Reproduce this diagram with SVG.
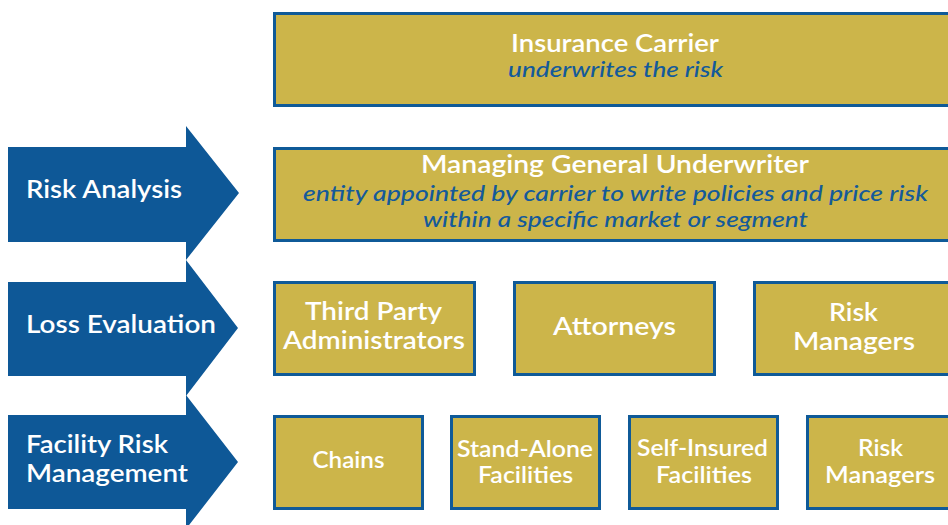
<svg xmlns="http://www.w3.org/2000/svg" width="948" height="525" viewBox="0 0 948 525">
  <style>
    .box { fill: #ccb54a; stroke: #0f5a98; stroke-width: 3; }
    .arrow { fill: #0e5897; }
    .t { font-family: Lato, "Open Sans", "Liberation Sans", sans-serif; font-weight: 600; fill: #ffffff; }
    .c { text-anchor: middle; }
    .i { font-family: Lato, "Open Sans", "Liberation Sans", sans-serif; font-style: italic; font-weight: 500; fill: #145a9a; text-anchor: middle; }
  </style>
  <rect width="948" height="525" fill="#ffffff"/>

  <!-- left-hand arrow labels -->
  <g id="risk-analysis">
    <polygon class="arrow" points="8,147 186,147 186,126 239,193 186,260 186,242 8,242"/>
    <text class="t" x="26" y="198" font-size="24" textLength="156" lengthAdjust="spacingAndGlyphs">Risk Analysis</text>
  </g>
  <g id="loss-evaluation">
    <polygon class="arrow" points="8,282 186,282 186,260 238,328 186,396 186,376 8,376"/>
    <text class="t" x="26" y="333" font-size="24" textLength="190" lengthAdjust="spacingAndGlyphs">Loss Evaluation</text>
  </g>
  <g id="facility-risk-management">
    <polygon class="arrow" points="8,415 186,415 186,395 238,462 186,529 186,509 8,509"/>
    <text class="t" x="26" y="453" font-size="24" textLength="142" lengthAdjust="spacingAndGlyphs">Facility Risk</text>
    <text class="t" x="26" y="482" font-size="24" textLength="162" lengthAdjust="spacingAndGlyphs">Management</text>
  </g>

  <!-- top tiers -->
  <g id="insurance-carrier">
    <rect class="box" x="274.5" y="13.5" width="681" height="92"/>
    <text class="t c" x="615" y="52" font-size="25" textLength="208" lengthAdjust="spacingAndGlyphs">Insurance Carrier</text>
    <text class="i" x="615.5" y="77" font-size="22" textLength="215" lengthAdjust="spacingAndGlyphs">underwrites the risk</text>
  </g>
  <g id="managing-general-underwriter">
    <rect class="box" x="274.5" y="148.5" width="681" height="92"/>
    <text class="t c" x="615" y="173" font-size="25" textLength="388" lengthAdjust="spacingAndGlyphs">Managing General Underwriter</text>
    <text class="i" x="615.5" y="201" font-size="22" textLength="625" lengthAdjust="spacingAndGlyphs">entity appointed by carrier to write policies and price risk</text>
    <text class="i" x="615.5" y="227" font-size="22" textLength="385" lengthAdjust="spacingAndGlyphs">within a specific market or segment</text>
  </g>

  <!-- loss evaluation row -->
  <g id="third-party-administrators">
    <rect class="box" x="274.5" y="282.5" width="200" height="92"/>
    <text class="t c" x="373.5" y="320" font-size="25" textLength="137" lengthAdjust="spacingAndGlyphs">Third Party</text>
    <text class="t c" x="374" y="349" font-size="25" textLength="182" lengthAdjust="spacingAndGlyphs">Administrators</text>
  </g>
  <g id="attorneys">
    <rect class="box" x="514.5" y="282.5" width="200" height="92"/>
    <text class="t c" x="614.5" y="335" font-size="25" textLength="123" lengthAdjust="spacingAndGlyphs">Attorneys</text>
  </g>
  <g id="risk-managers-loss">
    <rect class="box" x="754.5" y="282.5" width="200" height="92"/>
    <text class="t c" x="853.5" y="321" font-size="25" textLength="49" lengthAdjust="spacingAndGlyphs">Risk</text>
    <text class="t c" x="854" y="350" font-size="25" textLength="122" lengthAdjust="spacingAndGlyphs">Managers</text>
  </g>

  <!-- facility risk management row -->
  <g id="chains">
    <rect class="box" x="274.5" y="416.5" width="148" height="92"/>
    <text class="t c" x="348.5" y="468" font-size="22" textLength="72" lengthAdjust="spacingAndGlyphs">Chains</text>
  </g>
  <g id="stand-alone-facilities">
    <rect class="box" x="451.5" y="416.5" width="148" height="92"/>
    <text class="t c" x="525" y="457" font-size="22" textLength="136" lengthAdjust="spacingAndGlyphs">Stand-Alone</text>
    <text class="t c" x="525.5" y="483" font-size="22" textLength="95" lengthAdjust="spacingAndGlyphs">Facilities</text>
  </g>
  <g id="self-insured-facilities">
    <rect class="box" x="629.5" y="416.5" width="148" height="92"/>
    <text class="t c" x="702.5" y="456" font-size="22" textLength="131" lengthAdjust="spacingAndGlyphs">Self-Insured</text>
    <text class="t c" x="704" y="483" font-size="22" textLength="96" lengthAdjust="spacingAndGlyphs">Facilities</text>
  </g>
  <g id="risk-managers-facility">
    <rect class="box" x="807.5" y="416.5" width="148" height="92"/>
    <text class="t c" x="880.5" y="456" font-size="22" textLength="45" lengthAdjust="spacingAndGlyphs">Risk</text>
    <text class="t c" x="880" y="483" font-size="22" textLength="110" lengthAdjust="spacingAndGlyphs">Managers</text>
  </g>
</svg>
